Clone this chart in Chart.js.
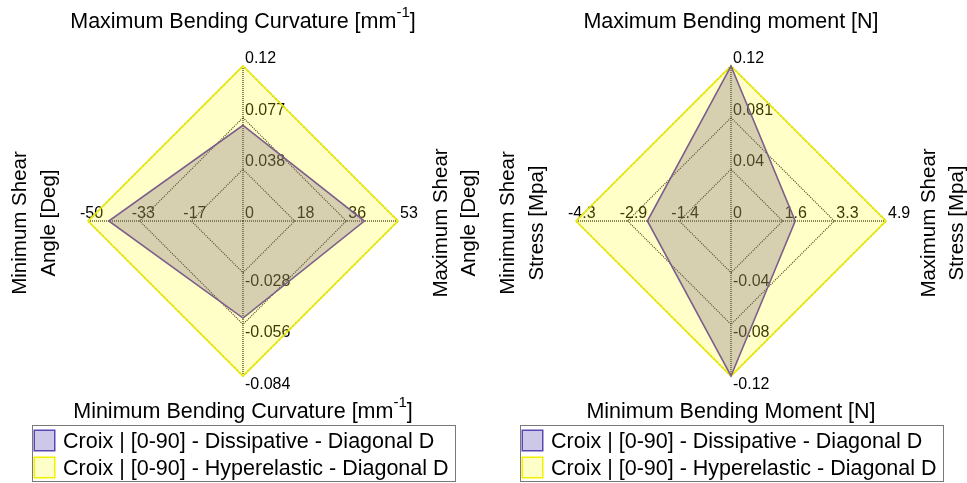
<!DOCTYPE html>
<html>
<head>
<meta charset="utf-8">
<script src="https://cdn.jsdelivr.net/npm/chart.js@4.4.0/dist/chart.umd.min.js"></script>
<style>
  html, body { margin: 0; padding: 0; background: #fff; }
  #wrap { position: relative; width: 967px; height: 483px; overflow: hidden; }
  .panel { position: absolute; top: 0; height: 483px; }
  canvas { display: block; }
</style>
</head>
<body>
<div id="wrap">
  <div class="panel" style="left:0;width:484px"><canvas id="curv" width="484" height="483"></canvas></div>
  <div class="panel" style="left:484px;width:483px"><canvas id="mom" width="483" height="483"></canvas></div>
</div>
<script>
// Series shared by both panels
const seriesNames = [
  'Croix | [0-90] - Dissipative - Diagonal D',
  'Croix | [0-90] - Hyperelastic - Diagonal D'
];

// Left panel: bending curvature / shear angle. Arms run top, right, bottom, left.
const curvTitles = [
  'Maximum Bending Curvature [mm^{-1}]',
  'Maximum Shear\nAngle [Deg]',
  'Minimum Bending Curvature [mm^{-1}]',
  'Minimum Shear\nAngle [Deg]'
];
const curvLimits = [0.115, 53.4, -0.084, -50];
const curvDissipative = [0.071, 41.8, -0.0526, -43.3];
const curvHyperelastic = [0.115, 53.4, -0.084, -50];
const curvTickLabels = [
  ['0.038', '0.077', '0.12'],
  ['18', '36', '53'],
  ['-0.028', '-0.056', '-0.084'],
  ['-17', '-33', '-50']
];

// Right panel: bending moment / shear stress. Arms run top, right, bottom, left.
const momTitles = [
  'Maximum Bending moment [N]',
  'Maximum Shear\nStress [Mpa]',
  'Minimum Bending Moment [N]',
  'Minimum Shear\nStress [Mpa]'
];
const momLimits = [0.121, 4.9, -0.12, -4.3];
const momDissipative = [0.121, 2.03, -0.12, -2.32];
const momHyperelastic = [0.121, 4.9, -0.12, -4.3];
const momTickLabels = [
  ['0.04', '0.081', '0.12'],
  ['1.6', '3.3', '4.9'],
  ['-0.04', '-0.08', '-0.12'],
  ['-1.4', '-2.9', '-4.3']
];

const FONT = "'Liberation Sans', Arial, Helvetica, sans-serif";
const ringLevels = [0, 1 / 3, 2 / 3, 1];
const legendSwatches = [
  { fill: 'rgb(205,200,232)', stroke: 'rgb(88,72,182)' },
  { fill: 'rgb(254,254,200)', stroke: 'rgb(242,242,0)' }
];

// Text with ^{...} superscripts, centred on (x, y)
function drawRich(ctx, str, x, y, size) {
  const parts = [];
  const re = /\^\{([^}]*)\}/g;
  let last = 0, m;
  while ((m = re.exec(str))) {
    if (m.index > last) parts.push({ t: str.slice(last, m.index), sup: false });
    parts.push({ t: m[1], sup: true });
    last = re.lastIndex;
  }
  if (last < str.length) parts.push({ t: str.slice(last), sup: false });
  const supSize = size * 0.7;
  let total = 0;
  parts.forEach(p => {
    ctx.font = `${p.sup ? supSize : size}px ${FONT}`;
    p.w = ctx.measureText(p.t).width;
    total += p.w;
  });
  let cx = x - total / 2;
  ctx.textAlign = 'left';
  ctx.textBaseline = 'middle';
  parts.forEach(p => {
    ctx.font = `${p.sup ? supSize : size}px ${FONT}`;
    ctx.fillText(p.t, cx, p.sup ? y - size * 0.42 : y);
    cx += p.w;
  });
}

function decorPlugin(titles, tickLabels) {
  return {
    id: 'decor',
    // axis value labels sit underneath the translucent areas
    beforeDatasetsDraw(chart) {
      const s = chart.scales.r;
      const ctx = chart.ctx;
      ctx.save();
      ctx.fillStyle = '#000';
      ctx.font = `16px ${FONT}`;
      ctx.textAlign = 'left';
      ctx.textBaseline = 'alphabetic';
      ctx.fillText('0', s.xCenter + 2, s.yCenter - 3);
      tickLabels.forEach((labels, arm) => {
        labels.forEach((txt, k) => {
          const p = s.getPointPosition(arm, s.getDistanceFromCenterForValue((k + 1) / labels.length));
          let x = p.x + 2, y = p.y - 3;
          if (arm === 2) y = p.y + 13;
          if (arm === 3) x = p.x - 8;
          ctx.fillText(txt, x, y);
        });
      });
      ctx.restore();
    },
    afterDraw(chart) {
      const s = chart.scales.r;
      const ctx = chart.ctx;
      const cx = s.xCenter, cy = s.yCenter;
      ctx.save();
      ctx.fillStyle = '#000';
      // arm titles
      drawRich(ctx, titles[0], cx, cy - 199, 21.5);
      drawRich(ctx, titles[2], cx, cy + 191, 21.5);
      const side = (txt, xs) => {
        txt.split('\n').forEach((line, i) => {
          ctx.save();
          ctx.translate(xs[i], cy + 2);
          ctx.rotate(-Math.PI / 2);
          drawRich(ctx, line, 0, 0, 20.5);
          ctx.restore();
        });
      };
      side(titles[3], [cx - 223, cx - 194]);
      side(titles[1], [cx + 198, cx + 226]);
      // legend
      ctx.lineWidth = 1;
      ctx.strokeStyle = 'rgb(120,120,120)';
      ctx.fillStyle = '#fff';
      ctx.fillRect(cx - 211, 425, 423, 57);
      ctx.strokeRect(cx - 210.5, 425.5, 423, 56);
      chart.data.datasets.forEach((ds, i) => {
        const top = 430 + i * 27;
        ctx.fillStyle = legendSwatches[i].fill;
        ctx.fillRect(cx - 209, top, 21, 21);
        ctx.strokeStyle = legendSwatches[i].stroke;
        ctx.lineWidth = 1.5;
        ctx.strokeRect(cx - 208.75, top + 0.25, 20.5, 20.5);
        ctx.fillStyle = '#000';
        ctx.font = `21.5px ${FONT}`;
        ctx.textAlign = 'left';
        ctx.textBaseline = 'middle';
        ctx.fillText(ds.label, cx - 180, top + 12);
      });
      ctx.restore();
    }
  };
}

function makePanel(id, titles, limits, dissipative, hyperelastic, tickLabels, padding) {
  const norm = arr => arr.map((v, i) => v / limits[i]);
  return new Chart(document.getElementById(id), {
    type: 'radar',
    data: {
      labels: titles.map(t => t.replace('\n', ' ')),
      datasets: [
        {
          label: seriesNames[0],
          data: norm(dissipative),
          fill: true,
          backgroundColor: 'rgba(118,98,122,0.30)',
          borderColor: 'rgb(125,94,138)',
          borderWidth: 1.6,
          pointRadius: 0
        },
        {
          label: seriesNames[1],
          data: norm(hyperelastic),
          fill: true,
          backgroundColor: 'rgba(255,255,0,0.22)',
          borderColor: 'rgb(236,236,0)',
          borderWidth: 1.6,
          pointRadius: 0
        }
      ]
    },
    options: {
      responsive: false,
      animation: false,
      events: [],
      layout: { padding },
      elements: { line: { tension: 0 } },
      plugins: { legend: { display: false }, tooltip: { enabled: false } },
      scales: {
        r: {
          min: 0,
          max: 1,
          afterBuildTicks: sc => { sc.ticks = ringLevels.map(v => ({ value: v })); },
          ticks: { display: false },
          pointLabels: { display: false },
          grid: { circular: false, color: 'rgb(0,0,0)', lineWidth: 1.1 },
          border: { dash: [1, 1.2] },
          angleLines: { color: 'rgb(20,20,20)', lineWidth: 1.3, borderDash: [1, 1] }
        }
      }
    },
    plugins: [decorPlugin(titles, tickLabels)]
  });
}

makePanel('curv', curvTitles, curvLimits, curvDissipative, curvHyperelastic, curvTickLabels,
  { left: 88, right: 86, top: 66, bottom: 107 });
makePanel('mom', momTitles, momLimits, momDissipative, momHyperelastic, momTickLabels,
  { left: 92, right: 81, top: 66, bottom: 107 });
</script>
</body>
</html>
